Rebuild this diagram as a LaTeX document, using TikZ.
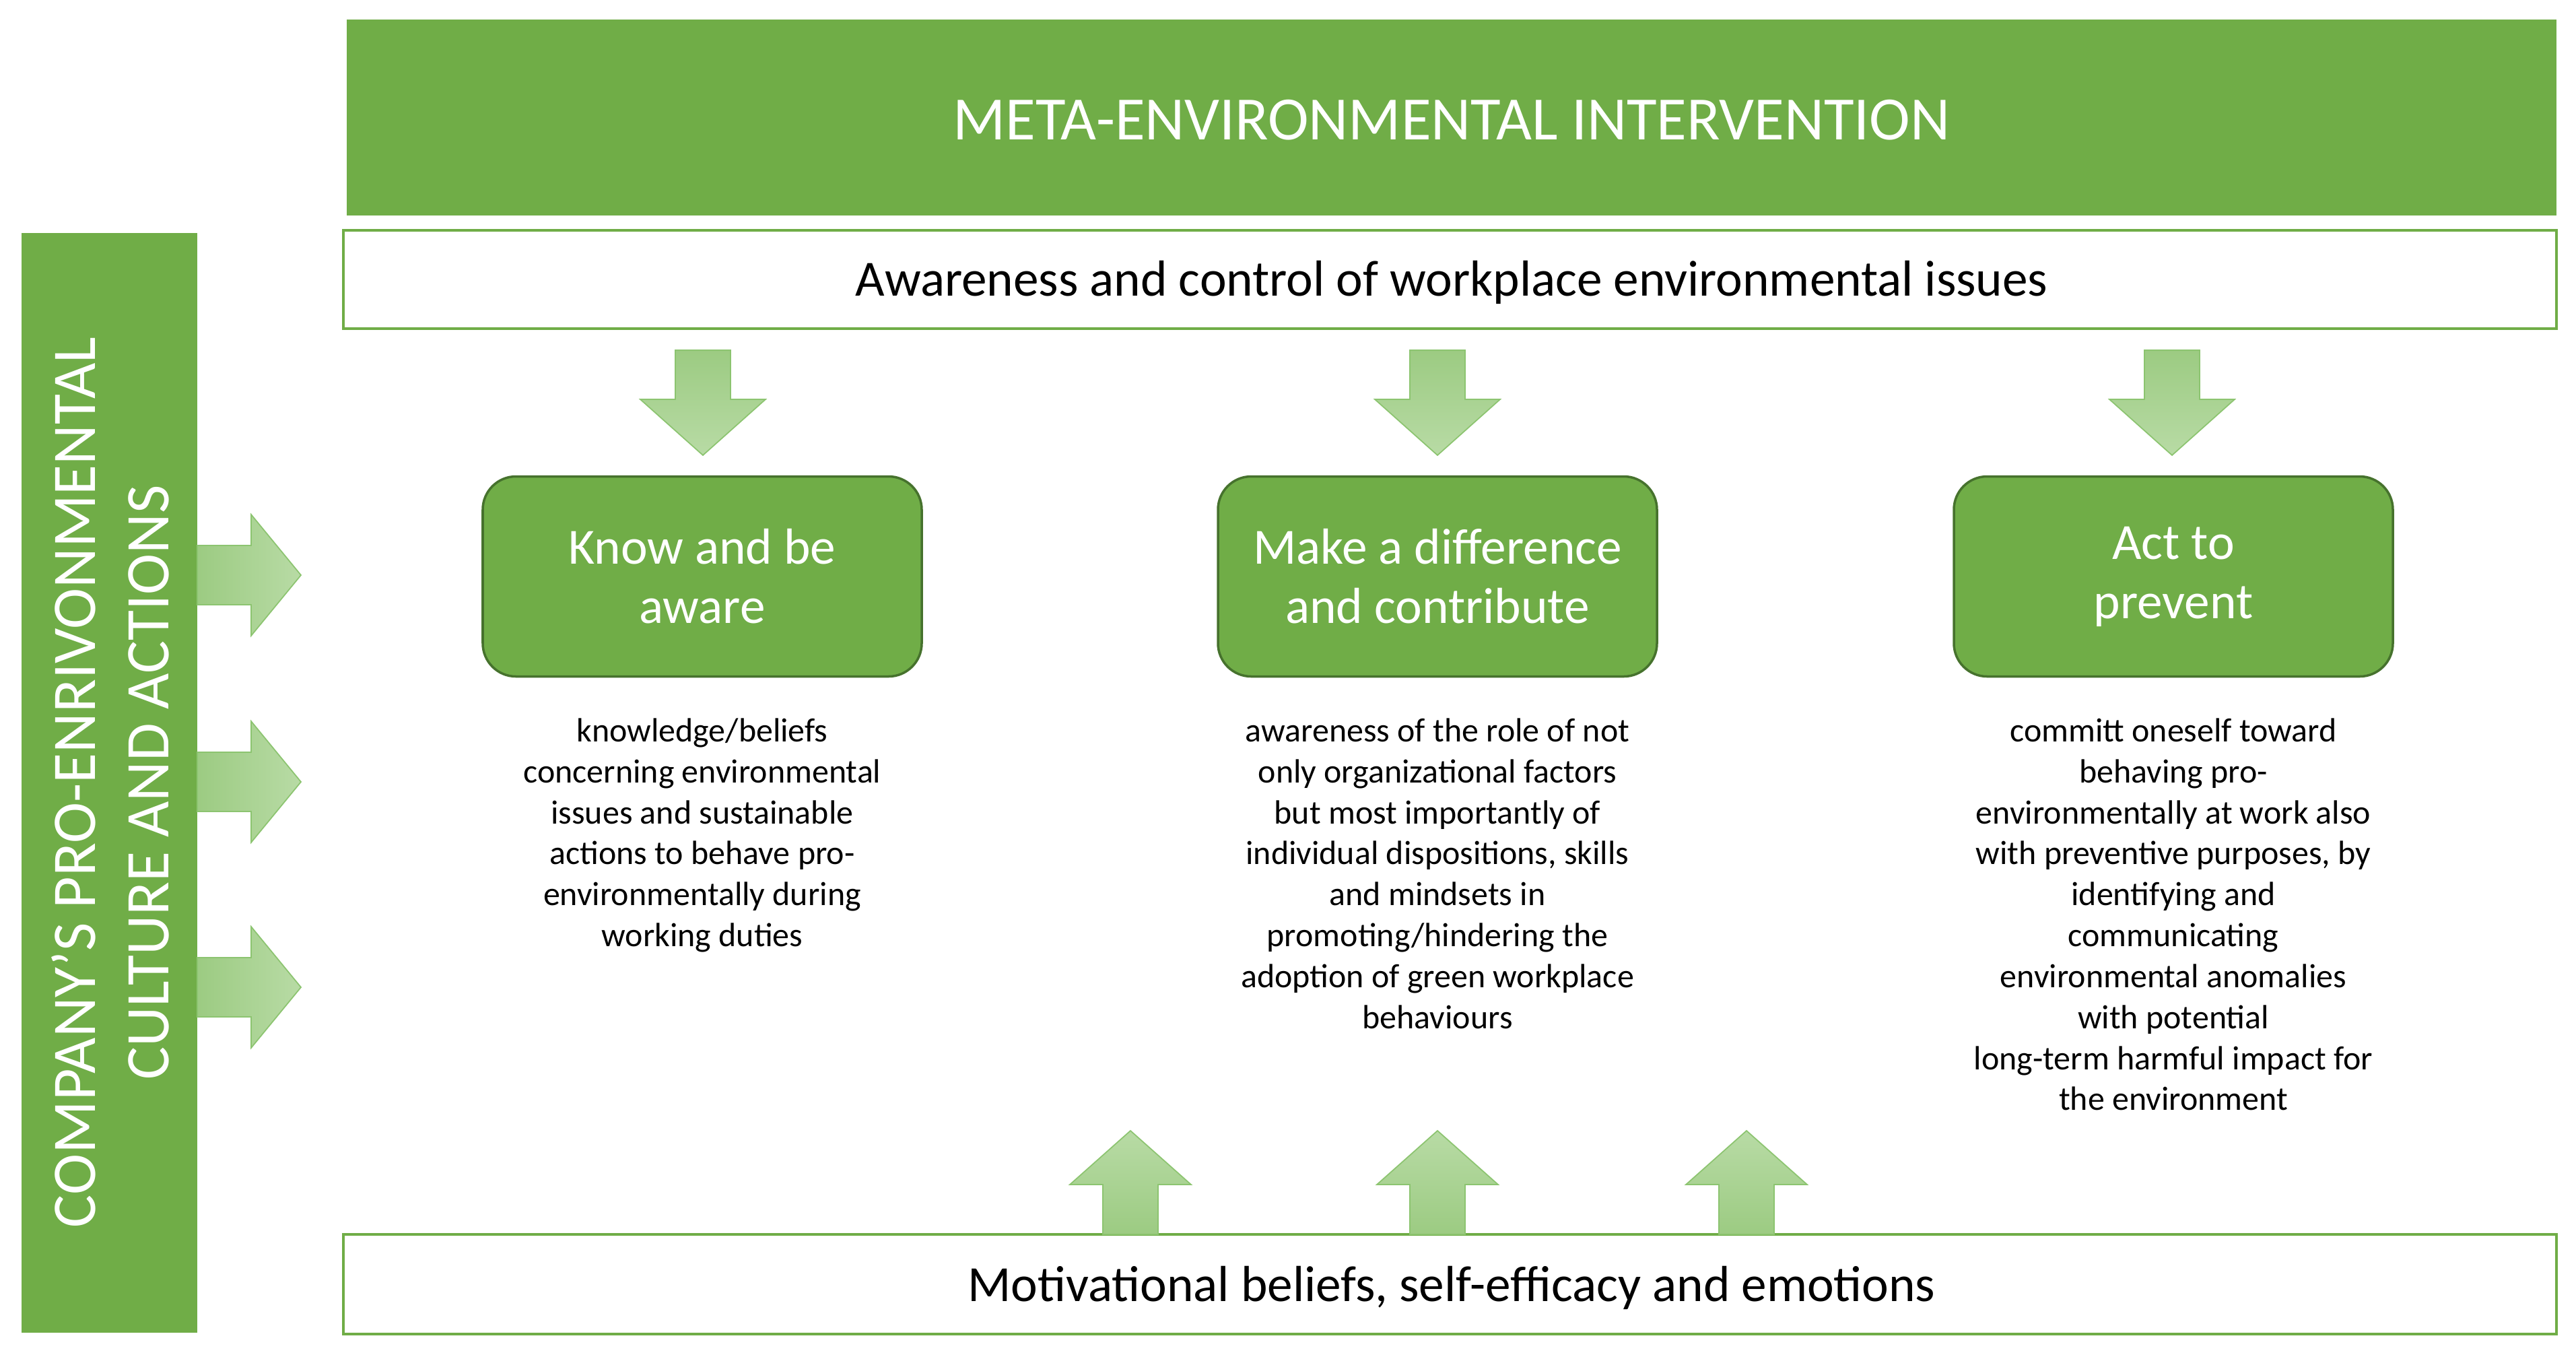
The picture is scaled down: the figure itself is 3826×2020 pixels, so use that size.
\documentclass[tikz,border=0pt]{standalone}
\usepackage{fontspec}
\setmainfont{Carlito}
\definecolor{ogreen}{HTML}{70AD47}
\definecolor{dgreen}{HTML}{46722D}
\definecolor{alight}{HTML}{B8DBA5}
\definecolor{adark}{HTML}{9CCB82}
\definecolor{aline}{HTML}{8CC470}
\begin{document}
\begin{tikzpicture}[x=0.01cm,y=-0.01cm,
  greenbar/.style={fill=ogreen,draw=none,inner sep=0pt},
  whitebar/.style={draw=ogreen,line width=1.2pt,fill=white,inner sep=0pt},
  catbox/.style={draw=dgreen,line width=1pt,fill=ogreen,rounded corners=14pt,inner sep=0pt,minimum width=652*0.01cm,minimum height=297*0.01cm,text=white,font=\fontsize{21.4}{25}\selectfont,align=center},
  desc/.style={anchor=north,align=center,font=\fontsize{14.2}{17.3}\selectfont,inner sep=0pt},
  darr/.style={draw=aline,line width=0.5pt,top color=adark,bottom color=alight},
  uarr/.style={draw=aline,line width=0.5pt,top color=alight,bottom color=adark},
  rarr/.style={draw=aline,line width=0.5pt,left color=adark,right color=alight}]
\useasboundingbox (0,0) rectangle (3826,2020);
% top bar
\path[greenbar] (515,29) rectangle (3797,320);
\node[text=white,font=\fontsize{26}{30}\selectfont] (title) at (2156,178) {META-ENVIRONMENTAL INTERVENTION};
% awareness bar
\path[whitebar] (510,342) rectangle (3797,488);
\node[font=\fontsize{21.4}{26}\selectfont] (aware) at (2156,419) {Awareness and control of workplace environmental issues};
% bottom bar
\path[whitebar] (510,1833) rectangle (3797,1981);
\node[font=\fontsize{21.4}{26}\selectfont] (motiv) at (2156,1912) {Motivational beliefs, self-efficacy and emotions};
% left bar
\path[greenbar] (32,346) rectangle (293,1979);
\node[rotate=90,text=white,align=center,font=\fontsize{26.2}{31}\selectfont] (company) at (164,1162) {COMPANY’S PRO-ENRIVONMENTAL\\CULTURE AND ACTIONS};
% category boxes
\node[catbox] (b1) at (1043,856) {Know and be\\aware};
\node[catbox] (b2) at (2135,856) {Make a difference\\and contribute};
\node[catbox] (b3) at (3228,856) {Act to\\prevent};
% descriptions
\node[desc] (d1) at (1043,1066) {knowledge/beliefs\\concerning environmental\\issues and sustainable\\actions to behave pro-\\environmentally during\\working duties};
\node[desc] (d2) at (2135,1066) {awareness of the role of not\\only organizational factors\\but most importantly of\\individual dispositions, skills\\and mindsets in\\promoting/hindering the\\adoption of green workplace\\behaviours};
\node[desc] (d3) at (3228,1066) {committ oneself toward\\behaving pro-\\environmentally at work also\\with preventive purposes, by\\identifying and\\communicating\\environmental anomalies\\with potential\\long-term harmful impact for\\the environment};
% down arrows
\foreach \cx/\nm in {1044/da1,2135/da2,3226/da3}{
  \path[darr] ({\cx-41},520) -- ({\cx+41},520) -- ({\cx+41},593) -- ({\cx+93},593) -- (\cx,676) -- ({\cx-93},593) -- ({\cx-41},593) -- cycle;
  \coordinate (\nm) at (\cx,676);
}
% up arrows
\foreach \cx/\nm in {1679/ua1,2135/ua2,2594/ua3}{
  \path[uarr] ({\cx-41},1833) -- ({\cx+41},1833) -- ({\cx+41},1759) -- ({\cx+90},1759) -- (\cx,1679) -- ({\cx-90},1759) -- ({\cx-41},1759) -- cycle;
  \coordinate (\nm) at (\cx,1679);
}
% right arrows from left bar
\foreach \cy/\nm in {854/ra1,1161/ra2,1466/ra3}{
  \path[rarr] (293,{\cy-44}) -- (373,{\cy-44}) -- (373,{\cy-90}) -- (447,\cy) -- (373,{\cy+90}) -- (373,{\cy+44}) -- (293,{\cy+44}) -- cycle;
  \coordinate (\nm) at (447,\cy);
}
\end{tikzpicture}
\end{document}
